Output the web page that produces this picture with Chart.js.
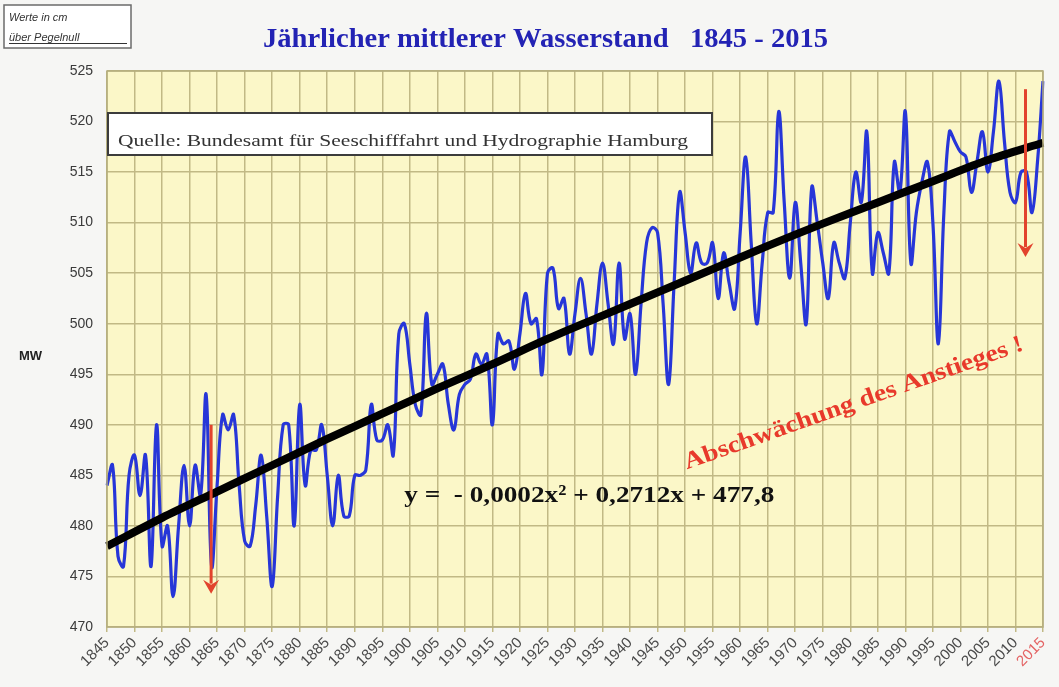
<!DOCTYPE html>
<html>
<head>
<meta charset="utf-8">
<script src="https://cdn.jsdelivr.net/npm/chart.js@4.4.1/dist/chart.umd.min.js"></script>
<style>
  html, body { margin: 0; padding: 0; background: #f6f6f4; }
  canvas { display: block; background: #f6f6f4; }
</style>
</head>
<body>
<canvas id="chart" width="1059" height="687"></canvas>
<script>
// years on the x axis
var years = [];
for (var yr = 1845; yr <= 2015; yr++) years.push(String(yr));

// yearly mean water level (cm above gauge zero)
var waterLevel = [
  // 1845-1854
  484, 486, 477, 476, 485, 487, 483, 487, 476, 490,
  // 1855-1864
  478, 480, 473, 480, 486, 480, 486, 483, 493, 476,
  // 1865-1874
  484, 491, 489.5, 491, 484, 478.5, 478, 482, 487, 481,
  // 1875-1884
  474, 483, 490, 490, 480, 492, 484, 487.5, 487.5, 490,
  // 1885-1894
  485, 480, 485, 481, 481, 485, 485, 485.5, 492, 488.5,
  // 1895-1904
  488.5, 490, 487, 499, 500, 496, 492, 491, 501, 494,
  // 1905-1914
  495, 496, 492, 489.5, 493, 494, 494.5, 497, 496, 497,
  // 1915-1924
  490, 499, 498, 498.3, 495.5, 499, 503, 500, 500.5, 495,
  // 1925-1934
  505, 505.5, 501.5, 502.5, 497, 501, 504.5, 501, 497, 502,
  // 1935-1944
  506, 502, 498, 506, 498.5, 501, 495, 502, 508, 509.5,
  // 1945-1954
  509, 502, 494, 504, 513, 509, 505, 508, 506, 506,
  // 1955-1964
  508, 502.5, 507, 504, 501.5, 509, 516.5, 508, 500, 506,
  // 1965-1974
  511, 511, 521, 512, 504.5, 512, 506, 500, 513.5, 510,
  // 1975-1984
  506, 502.5, 508, 506, 504.5, 510, 515, 512, 519, 505,
  // 1985-1994
  509, 507, 505, 516, 513, 521, 506, 511, 514, 516,
  // 1995-2004
  510, 498, 511, 519, 518, 517, 516.5, 513, 516, 519,
  // 2005-2015
  515, 519, 524, 518, 513, 512, 515, 515, 511, 516, 524
];

// black trend line, every ten years
var trendYears = ['1845', '1855', '1865', '1875', '1885', '1895', '1905', '1915', '1925',
  '1935', '1945', '1955', '1965', '1975', '1985', '1995', '2005', '2015'];
var trendLevel = [478, 480.8, 483.4, 486, 488.6, 491.1, 493.6, 496, 498.5,
  500.8, 503.1, 505.4, 507.7, 509.9, 512, 514.1, 516.2, 517.9];

var titleText = 'Jährlicher mittlerer Wasserstand   1845 - 2015';
var sourceText = 'Quelle: Bundesamt für Seeschifffahrt und Hydrographie Hamburg';
var equationText = 'y =  - 0,0002x² + 0,2712x + 477,8';
var noteText = 'Abschwächung des Anstieges !';

var gridColor = '#c1b985';

// draws text squeezed/stretched to a given width
function fitText(ctx, text, x, y, width) {
  var w = ctx.measureText(text).width;
  ctx.save();
  ctx.translate(x, y);
  ctx.scale(width / w, 1);
  ctx.fillText(text, 0, 0);
  ctx.restore();
}

function arrowDown(ctx, x, y1, y2) {
  ctx.save();
  ctx.strokeStyle = '#e2432d';
  ctx.fillStyle = '#e2432d';
  ctx.lineWidth = 3;
  ctx.beginPath();
  ctx.moveTo(x, y1);
  ctx.lineTo(x, y2 - 10);
  ctx.stroke();
  ctx.beginPath();
  ctx.moveTo(x - 8, y2 - 14);
  ctx.lineTo(x, y2 - 9);
  ctx.lineTo(x + 8, y2 - 14);
  ctx.lineTo(x, y2);
  ctx.closePath();
  ctx.fill();
  ctx.restore();
}

var deco = {
  id: 'deco',
  beforeDraw: function (chart) {
    var ctx = chart.ctx, a = chart.chartArea;
    ctx.save();
    ctx.fillStyle = '#fbf7c8';
    ctx.fillRect(a.left, a.top, a.right - a.left, a.bottom - a.top);
    ctx.restore();
  },
  afterDatasetsDraw: function (chart) {
    var ctx = chart.ctx;
    var xs = chart.scales.x, ys = chart.scales.y;
    arrowDown(ctx, xs.getPixelForValue(years.indexOf('1864')) - 0.5, ys.getPixelForValue(490), ys.getPixelForValue(473.3));
    arrowDown(ctx, xs.getPixelForValue(years.indexOf('2012')) - 1, ys.getPixelForValue(523.2), ys.getPixelForValue(506.6));
  },
  afterDraw: function (chart) {
    var ctx = chart.ctx, a = chart.chartArea;
    var xs = chart.scales.x, ys = chart.scales.y;
    ctx.save();

    // plot frame
    ctx.strokeStyle = '#b4ad7e';
    ctx.lineWidth = 1.5;
    ctx.strokeRect(a.left, a.top, a.right - a.left, a.bottom - a.top);

    // units box top left
    ctx.fillStyle = '#ffffff';
    ctx.fillRect(4, 5, 127, 43);
    ctx.strokeStyle = '#6b6b6b';
    ctx.lineWidth = 1.5;
    ctx.strokeRect(4, 5, 127, 43);
    ctx.fillStyle = '#333333';
    ctx.font = 'italic 11px "Liberation Sans"';
    ctx.textBaseline = 'alphabetic';
    ctx.fillText('Werte in cm', 9, 21);
    ctx.fillText('über Pegelnull', 9, 41);
    ctx.fillRect(9, 43, 118, 1);

    // title
    ctx.fillStyle = '#2323b4';
    ctx.font = 'bold 27px "Liberation Serif"';
    fitText(ctx, titleText, 263, 47, 565);

    // MW
    ctx.fillStyle = '#222222';
    ctx.font = 'bold 13px "Liberation Sans"';
    ctx.fillText('MW', 19, 360);

    // source box
    ctx.fillStyle = '#ffffff';
    ctx.fillRect(108, 113, 604, 42);
    ctx.strokeStyle = '#3c3c3c';
    ctx.lineWidth = 2;
    ctx.strokeRect(108, 113, 604, 42);
    ctx.fillStyle = '#333333';
    ctx.font = '17px "Liberation Serif"';
    fitText(ctx, sourceText, 118, 146, 570);

    // equation
    ctx.fillStyle = '#111111';
    ctx.font = 'bold 24px "Liberation Serif"';
    fitText(ctx, equationText, xs.getPixelForValue(years.indexOf('1899')), ys.getPixelForValue(482.4), 370);

    // red note, rotated
    ctx.save();
    ctx.translate(xs.getPixelForValue(years.indexOf('1950')) + 2, ys.getPixelForValue(485.6));
    ctx.rotate(-19.5 * Math.PI / 180);
    ctx.fillStyle = '#e8392b';
    ctx.font = 'bold 24px "Liberation Serif"';
    fitText(ctx, noteText, 0, 0, 358);
    ctx.restore();

    ctx.restore();
  }
};

var ctx = document.getElementById('chart').getContext('2d');
var chart = new Chart(ctx, {
  type: 'line',
  data: {
    labels: years,
    datasets: [{
      label: 'Trend',
      data: trendYears.map(function (y, i) { return { x: y, y: trendLevel[i] }; }),
      borderColor: '#000000',
      borderWidth: 8,
      pointRadius: 0,
      tension: 0.3,
      fill: false
    }, {
      label: 'MW',
      data: waterLevel,
      borderColor: '#2736d8',
      borderWidth: 3.2,
      pointRadius: 0,
      tension: 0.4,
      fill: false
    }]
  },
  options: {
    responsive: false,
    animation: false,
    devicePixelRatio: 1,
    layout: { padding: { left: 0, top: 71, right: 16, bottom: 0 } },
    plugins: {
      legend: { display: false },
      title: { display: false },
      tooltip: { enabled: false }
    },
    scales: {
      x: {
        offset: false,
        afterFit: function (s) { s.height = 60; },
        border: { display: false },
        grid: {
          color: function (c) { return Number(years[c.index]) % 5 === 0 ? gridColor : 'rgba(0,0,0,0)'; },
          lineWidth: 1.5,
          tickLength: 5
        },
        ticks: {
          autoSkip: false,
          maxRotation: 45,
          minRotation: 45,
          padding: 2,
          font: { family: '"Liberation Sans"', size: 15 },
          color: function (c) { return years[c.index] === '2015' ? '#e46464' : '#4a4a4a'; },
          callback: function (v, i) { return Number(years[i]) % 5 === 0 ? years[i] : ''; }
        }
      },
      y: {
        min: 470,
        max: 525,
        afterFit: function (s) { s.width = 107; },
        border: { display: false },
        grid: { color: gridColor, lineWidth: 1.5, drawTicks: false },
        ticks: {
          stepSize: 5,
          padding: 14,
          font: { family: '"Liberation Sans"', size: 14 },
          color: '#3a3a3a'
        }
      }
    }
  },
  plugins: [deco]
});
</script>
</body>
</html>
